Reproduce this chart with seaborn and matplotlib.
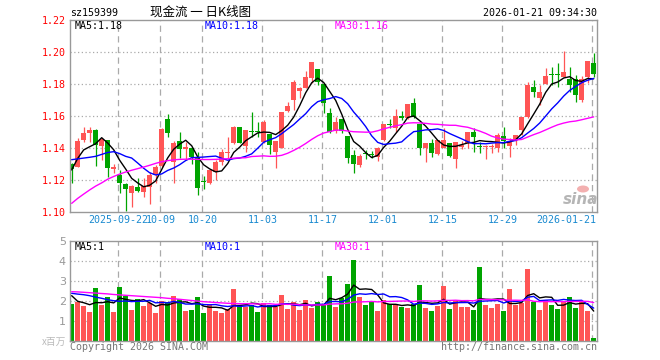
import numpy as np
import pandas as pd
import seaborn as sns
import matplotlib.pyplot as plt
from matplotlib.patches import Ellipse

# daily K-line data (index 0 = first candle on the left)
opens = [1.1298, 1.1283, 1.1450, 1.1496, 1.1513, 1.1413, 1.1450, 1.1267, 1.1231, 1.1175,
         1.1117, 1.1158, 1.1127, 1.1158, 1.1231, 1.1288, 1.1579, 1.1315, 1.1444, 1.1392,
         1.1398, 1.1346, 1.1196, 1.1179, 1.1248, 1.1311, 1.1367, 1.1429, 1.1533, 1.1415,
         1.1508, 1.1506, 1.1435, 1.1490, 1.1373, 1.1402, 1.1631, 1.1700, 1.1756, 1.1777,
         1.1835, 1.1894, 1.1798, 1.1617, 1.1506, 1.1581, 1.1475, 1.1356, 1.1294, 1.1369,
         1.1358, 1.1346, 1.1450, 1.1550, 1.1527, 1.1600, 1.1585, 1.1679, 1.1548, 1.1398,
         1.1429, 1.1363, 1.1402, 1.1429, 1.1333, 1.1404, 1.1429, 1.1502, 1.1415, 1.1406,
         1.1404, 1.1398, 1.1475, 1.1413, 1.1450, 1.1513, 1.1592, 1.1783, 1.1710, 1.1800,
         1.1863, 1.1863, 1.1846, 1.1829, 1.1829, 1.1700, 1.1846, 1.1933]
highs = [1.1304, 1.1465, 1.1533, 1.1533, 1.1517, 1.1460, 1.1450, 1.1300, 1.1263, 1.1183,
         1.1169, 1.1210, 1.1210, 1.1252, 1.1294, 1.1523, 1.1613, 1.1446, 1.1502, 1.1440,
         1.1404, 1.1377, 1.1227, 1.1263, 1.1325, 1.1394, 1.1471, 1.1540, 1.1533, 1.1513,
         1.1623, 1.1565, 1.1575, 1.1490, 1.1444, 1.1623, 1.1690, 1.1825, 1.1783, 1.1881,
         1.1935, 1.1894, 1.1804, 1.1652, 1.1596, 1.1581, 1.1475, 1.1388, 1.1363, 1.1388,
         1.1379, 1.1408, 1.1548, 1.1579, 1.1644, 1.1631, 1.1675, 1.1710, 1.1548, 1.1429,
         1.1456, 1.1450, 1.1523, 1.1429, 1.1440, 1.1446, 1.1502, 1.1523, 1.1440, 1.1419,
         1.1425, 1.1496, 1.1533, 1.1460, 1.1481, 1.1596, 1.1815, 1.1825, 1.1794, 1.1898,
         1.1904, 1.1933, 1.2006, 1.1904, 1.1856, 1.1850, 1.1946, 1.1992]
lows = [1.1179, 1.1279, 1.1440, 1.1440, 1.1288, 1.1325, 1.1217, 1.1242, 1.1121, 1.1008,
        1.1029, 1.1127, 1.1096, 1.1050, 1.1179, 1.1283, 1.1471, 1.1183, 1.1335, 1.1325,
        1.1300, 1.1106, 1.1144, 1.1173, 1.1200, 1.1294, 1.1335, 1.1423, 1.1429, 1.1377,
        1.1471, 1.1471, 1.1429, 1.1360, 1.1273, 1.1398, 1.1627, 1.1638, 1.1710, 1.1773,
        1.1804, 1.1794, 1.1617, 1.1492, 1.1492, 1.1492, 1.1304, 1.1242, 1.1283, 1.1331,
        1.1340, 1.1319, 1.1444, 1.1523, 1.1502, 1.1575, 1.1579, 1.1585, 1.1356, 1.1310,
        1.1346, 1.1356, 1.1398, 1.1346, 1.1275, 1.1396, 1.1398, 1.1377, 1.1371, 1.1330,
        1.1367, 1.1377, 1.1398, 1.1346, 1.1419, 1.1481, 1.1585, 1.1721, 1.1669, 1.1800,
        1.1794, 1.1779, 1.1846, 1.1752, 1.1690, 1.1690, 1.1804, 1.1846]
closes = [1.1267, 1.1444, 1.1492, 1.1513, 1.1419, 1.1454, 1.1277, 1.1283, 1.1183, 1.1146,
          1.1163, 1.1133, 1.1163, 1.1231, 1.1283, 1.1517, 1.1496, 1.1433, 1.1392, 1.1404,
          1.1346, 1.1148, 1.1185, 1.1263, 1.1311, 1.1377, 1.1377, 1.1533, 1.1429, 1.1513,
          1.1498, 1.1498, 1.1560, 1.1419, 1.1444, 1.1623, 1.1665, 1.1815, 1.1777, 1.1846,
          1.1935, 1.1810, 1.1679, 1.1498, 1.1565, 1.1506, 1.1335, 1.1298, 1.1352, 1.1363,
          1.1354, 1.1402, 1.1548, 1.1546, 1.1600, 1.1585, 1.1675, 1.1596, 1.1398, 1.1429,
          1.1367, 1.1450, 1.1450, 1.1352, 1.1435, 1.1419, 1.1502, 1.1467, 1.1408, 1.1413,
          1.1410, 1.1481, 1.1446, 1.1440, 1.1481, 1.1596, 1.1794, 1.1748, 1.1752, 1.1850,
          1.1856, 1.1856, 1.1873, 1.1794, 1.1731, 1.1829, 1.1946, 1.1863]
# volume in millions
volumes = [1.83, 1.92, 1.73, 1.43, 2.63, 1.78, 2.18, 1.43, 2.68, 2.25,
           1.53, 2.08, 1.73, 1.88, 1.38, 2.00, 1.93, 2.23, 2.08, 1.48,
           1.53, 2.18, 1.38, 1.78, 1.48, 1.38, 1.58, 2.58, 1.78, 1.68,
           1.78, 1.43, 1.88, 1.78, 1.68, 2.28, 1.58, 1.93, 1.53, 2.03,
           1.63, 1.93, 1.78, 3.23, 1.68, 2.13, 2.83, 4.03, 2.18, 1.78,
           1.98, 1.48, 2.03, 1.83, 1.78, 1.68, 1.63, 1.83, 2.78, 1.63,
           1.48, 1.73, 2.73, 1.58, 1.98, 1.68, 1.68, 1.53, 3.68, 1.78,
           1.63, 1.83, 1.48, 2.58, 1.78, 1.88, 3.58, 1.93, 1.53, 2.03,
           1.78, 1.58, 1.98, 2.18, 1.63, 1.98, 1.48, 0.13]

# moving-average values before a full window exists (they use earlier history)
ma5_lead = [1.1263, 1.1335, 1.1388, 1.1408]
ma10_lead = [1.1327, 1.1332, 1.1337, 1.1342, 1.1348, 1.1360, 1.1372, 1.1377, 1.1365]
ma30_lead = [1.1054, 1.1085, 1.1112, 1.1138, 1.1162, 1.1182, 1.1205, 1.1222, 1.1237, 1.1250,
             1.1261, 1.1271, 1.1281, 1.1292, 1.1304, 1.1314, 1.1321, 1.1326, 1.1329, 1.1330,
             1.1330, 1.1329, 1.1328, 1.1328, 1.1329, 1.1331, 1.1333, 1.1336, 1.1338]
vol_ma5_lead = [2.25, 1.97, 1.90, 1.80]
vol_ma10_lead = [2.37, 2.33, 2.30, 2.25, 2.18, 2.12, 2.05, 2.00, 1.97]
vol_ma30_lead = [2.45, 2.44, 2.42, 2.40, 2.38, 2.36, 2.34, 2.31, 2.29, 2.27,
                 2.25, 2.23, 2.21, 2.19, 2.17, 2.15, 2.12, 2.10, 2.07, 2.04,
                 2.01, 1.98, 1.95, 1.93, 1.91, 1.89, 1.87, 1.86, 1.85]

date_labels = ['2025-09-22', '10-09', '10-20', '11-03', '11-17', '12-01', '12-15', '12-29', '2026-01-21']
date_index = [8, 15, 22, 32, 42, 52, 62, 72, 87]
price_ticks = [1.10, 1.12, 1.14, 1.16, 1.18, 1.20, 1.22]
volume_ticks = [1, 2, 3, 4, 5]

RED = '#ff5555'
GREEN = '#00a400'
GRID = '#aaaaaa'
DATE_BLUE = '#1a8ad0'
W, H = 660, 360


def moving_avg(values, n, lead):
    s = pd.Series(values).rolling(n).mean()
    s.iloc[:n - 1] = lead
    return s.values


def fx(x):
    return x / W


def fy(y):
    return 1 - y / H


sns.set_theme(style='white')
plt.rcParams['font.family'] = ['DejaVu Sans Mono', 'Noto Sans CJK SC']
mono = 'DejaVu Sans Mono'
cjk = ['Noto Sans CJK SC', 'DejaVu Sans']

o = np.array(opens)
h = np.array(highs)
l = np.array(lows)
c = np.array(closes)
idx = np.arange(len(c))
up = c >= o
colors = np.where(up, RED, GREEN)

fig = plt.figure(figsize=(6.6, 3.6), dpi=100)
ax = fig.add_axes([fx(70), fy(212), (596.7 - 70) / W, 192 / H])
axv = fig.add_axes([fx(70), fy(340.7), (596.7 - 70) / W, 100 / H])

# price panel
for t in price_ticks[1:-1]:
    ax.axhline(t, color=GRID, lw=0.9, ls=(0, (1, 2)), zorder=0.5)
for k in date_index:
    ax.axvline(k - 0.23, color=GRID, lw=0.9, ls=(0, (5, 3.5)), zorder=0.5)
    axv.axvline(k - 0.23, color=GRID, lw=0.9, ls=(0, (5, 3.5)), zorder=0.5)

ax.vlines(idx, l, h, colors=colors, lw=0.9, zorder=2)
body = np.maximum(np.abs(c - o), 0.0006)
ax.bar(idx, body, bottom=np.minimum(o, c), width=0.78, color=colors, lw=0, zorder=2)

sns.lineplot(x=idx, y=moving_avg(c, 5, ma5_lead), ax=ax, color='black', lw=1, zorder=3)
sns.lineplot(x=idx, y=moving_avg(c, 10, ma10_lead), ax=ax, color='#0000ff', lw=1, zorder=3)
sns.lineplot(x=idx, y=moving_avg(c, 30, ma30_lead), ax=ax, color='#ff00ff', lw=1, zorder=3)

ax.set_xlim(-0.28, 87.5)
ax.set_ylim(1.10, 1.22)
ax.set_xticks([])
ax.set_yticks(price_ticks)
ax.set_yticklabels([f'{t:.2f}' for t in price_ticks], color='red', fontsize=7.2, family=mono)
ax.tick_params(axis='y', length=0, pad=3)
ax.set_xlabel('')
ax.set_ylabel('')

for lab, k in zip(date_labels, date_index):
    if k == date_index[-1]:
        ax.text(87.35, -0.042, lab, transform=ax.get_xaxis_transform(), ha='right', va='center',
                color=DATE_BLUE, fontsize=7.2, family=mono)
    else:
        ax.text(k - 0.23, -0.042, lab, transform=ax.get_xaxis_transform(), ha='center', va='center',
                color=DATE_BLUE, fontsize=7.2, family=mono)

# volume panel
vol_df = pd.DataFrame({'i': idx, 'vol': volumes, 'dir': np.where(up, 'up', 'down')})
for t in volume_ticks[:-1]:
    axv.axhline(t, color=GRID, lw=0.9, ls=(0, (1, 2)), zorder=0.5)
sns.barplot(data=vol_df, x='i', y='vol', hue='dir', palette={'up': RED, 'down': GREEN},
            native_scale=True, dodge=False, width=0.83, saturation=1, errorbar=None,
            legend=False, linewidth=0, ax=axv, zorder=2)
v = np.array(volumes)
sns.lineplot(x=idx, y=moving_avg(v, 5, vol_ma5_lead), ax=axv, color='black', lw=1, zorder=3)
sns.lineplot(x=idx, y=moving_avg(v, 10, vol_ma10_lead), ax=axv, color='#0000ff', lw=1, zorder=3)
sns.lineplot(x=idx, y=moving_avg(v, 30, vol_ma30_lead), ax=axv, color='#ff00ff', lw=1, zorder=3)
axv.set_xlim(-0.28, 87.5)
axv.set_ylim(0, 5)
axv.set_xticks([])
axv.set_yticks(volume_ticks)
axv.set_yticklabels([str(t) for t in volume_ticks], color='#999999', fontsize=8, family='DejaVu Sans')
axv.tick_params(axis='y', length=0, pad=3)
axv.set_xlabel('')
axv.set_ylabel('')

for a in (ax, axv):
    for s in a.spines.values():
        s.set_color('#999999')
        s.set_linewidth(1)
        s.set_visible(True)

# texts
fig.text(fx(70), fy(12.5), 'sz159399', ha='left', va='center', fontsize=7.2, family=mono, color='black')
fig.text(fx(150), fy(12.5), '现金流 一 日K线图', ha='left', va='center', fontsize=9, family=cjk, color='black')
fig.text(fx(597), fy(12.5), '2026-01-21 09:34:30', ha='right', va='center', fontsize=7.2, family=mono, color='black')

fig.text(fx(75), fy(26), 'MA5:1.18', ha='left', va='center', fontsize=7.2, family=mono, color='black')
fig.text(fx(205), fy(26), 'MA10:1.18', ha='left', va='center', fontsize=7.2, family=mono, color='#0000ff')
fig.text(fx(335), fy(26), 'MA30:1.16', ha='left', va='center', fontsize=7.2, family=mono, color='#ff00ff')

fig.text(fx(75), fy(246.5), 'MA5:1', ha='left', va='center', fontsize=7.2, family=mono, color='black')
fig.text(fx(205), fy(246.5), 'MA10:1', ha='left', va='center', fontsize=7.2, family=mono, color='#0000ff')
fig.text(fx(335), fy(246.5), 'MA30:1', ha='left', va='center', fontsize=7.2, family=mono, color='#ff00ff')

fig.text(fx(66), fy(341.5), 'x百万', ha='right', va='center', fontsize=7, family=cjk, color='#bbbbbb')
fig.text(fx(70), fy(347), 'Copyright 2026 SINA.COM', ha='left', va='center', fontsize=7.2, family=mono, color='#777777')
fig.text(fx(597), fy(347), 'http://finance.sina.com.cn', ha='right', va='center', fontsize=7.2, family=mono, color='#777777')

# sina watermark
fig.add_artist(Ellipse((fx(583), fy(189)), 12 / W, 7 / H, color='#f3b0b0', lw=0))
fig.text(fx(581), fy(199), 'sina', ha='center', va='center', fontsize=11, family='DejaVu Sans',
         style='italic', weight='bold', color='#b5b5b5')

fig.savefig('out.png', dpi=100)
